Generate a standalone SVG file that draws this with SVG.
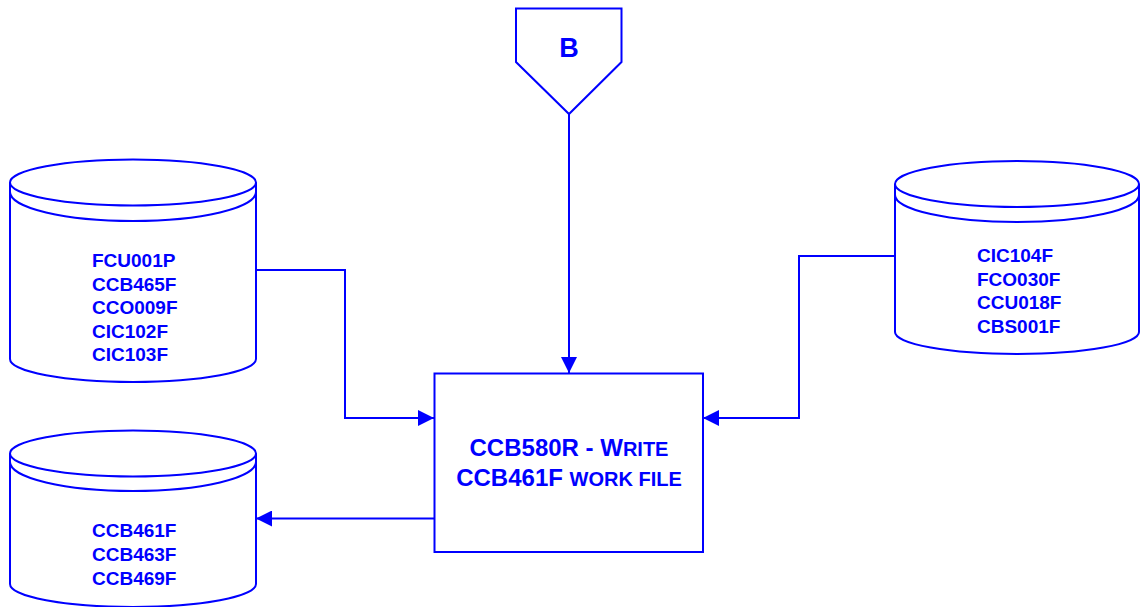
<svg xmlns="http://www.w3.org/2000/svg" width="1140" height="607" viewBox="0 0 1140 607">
<defs>
<style>
.s{fill:#fff;stroke:#0000ff;stroke-width:2}
.l{fill:none;stroke:#0000ff;stroke-width:2}
.t{font-family:"Liberation Sans",Arial,sans-serif;font-weight:bold;fill:#0000ff}
.f{font-size:19px}
</style>
<marker id="ah" viewBox="0 0 16 16" refX="16" refY="8" markerWidth="16" markerHeight="16" markerUnits="userSpaceOnUse" orient="auto">
<path d="M0,0 L16,8 L0,16 Z" fill="#0000ff"/>
</marker>
</defs>
<g id="connectors">
<path class="l" d="M569,114 V373" marker-end="url(#ah)"/>
<path class="l" d="M256,270 H345 V418 H434" marker-end="url(#ah)"/>
<path class="l" d="M895,256 H799 V418 H703" marker-end="url(#ah)"/>
<path class="l" d="M436,518.5 H256" marker-end="url(#ah)"/>
</g>
<g id="nodeB">
<path class="s" d="M516,8.5 H621.5 V62 L569,114 L516,62 Z"/>
<text class="t" x="569" y="57" font-size="27" text-anchor="middle">B</text>
</g>
<g id="process">
<rect class="s" x="434.5" y="373.5" width="268.5" height="178.5"/>
<text class="t" x="569" y="456" font-size="24" text-anchor="middle">CCB580R - W<tspan font-size="20">RITE</tspan></text>
<text class="t" x="569" y="486" font-size="24" text-anchor="middle">CCB461F <tspan font-size="20">WORK FILE</tspan></text>
</g>
<g id="dbInputs">
<path class="s" d="M10,182.5 V359 A123,23 0 0 0 256,359 V182.5"/>
<ellipse class="s" cx="133" cy="182.5" rx="123" ry="23"/>
<path class="l" d="M10,192 A123,29 0 0 0 256,192"/>
<text class="t f" x="92"><tspan x="92" y="267">FCU001P</tspan><tspan x="92" y="290.5">CCB465F</tspan><tspan x="92" y="314">CCO009F</tspan><tspan x="92" y="337.5">CIC102F</tspan><tspan x="92" y="361">CIC103F</tspan></text>
</g>
<g id="dbRight">
<path class="s" d="M895,184 V332 A122,22 0 0 0 1139,332 V184"/>
<ellipse class="s" cx="1017" cy="184" rx="122" ry="23"/>
<path class="l" d="M895,195 A122,27 0 0 0 1139,195"/>
<text class="t f"><tspan x="977" y="262">CIC104F</tspan><tspan x="977" y="285.7">FCO030F</tspan><tspan x="977" y="309.3">CCU018F</tspan><tspan x="977" y="333">CBS001F</tspan></text>
</g>
<g id="dbOutputs">
<path class="s" d="M10,453.5 V584 A123,23 0 0 0 256,584 V453.5"/>
<ellipse class="s" cx="133" cy="453.5" rx="123" ry="23"/>
<path class="l" d="M10,462 A123,29 0 0 0 256,462"/>
<text class="t f"><tspan x="92" y="537">CCB461F</tspan><tspan x="92" y="561">CCB463F</tspan><tspan x="92" y="585">CCB469F</tspan></text>
</g>
</svg>
